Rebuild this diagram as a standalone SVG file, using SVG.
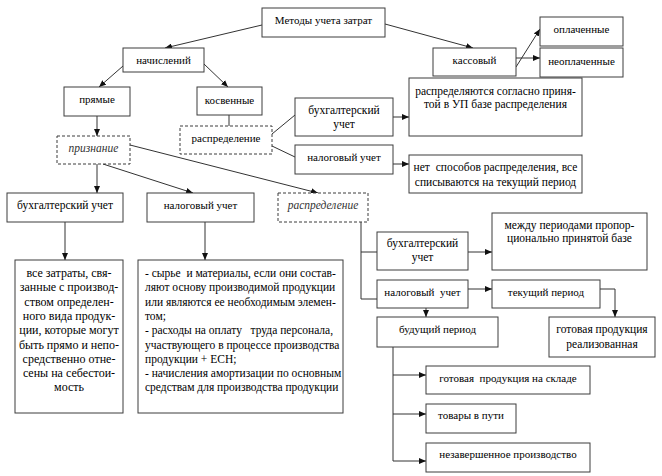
<svg xmlns="http://www.w3.org/2000/svg" width="662" height="476" viewBox="0 0 662 476">
<defs>
<style>
.b{fill:#fff;stroke:#3c3c3c;stroke-width:1}
.d{fill:#fff;stroke:#3c3c3c;stroke-width:1;stroke-dasharray:3,2}
.t{font-family:'Liberation Serif','Times New Roman','DejaVu Serif',serif;font-size:11.5px;fill:#000;text-anchor:middle}
.s{font-size:11px}
.g{font-size:12px}
.l{text-anchor:start}
.i{font-style:italic;fill:#333}
.c{fill:none;stroke:#333;stroke-width:1}
.a{marker-end:url(#ah)}
</style>
<marker id="ah" markerWidth="7" markerHeight="6" refX="7" refY="3" orient="auto" markerUnits="userSpaceOnUse">
<path d="M0,0 L7,3 L0,6 z" fill="#111"/>
</marker>
</defs>
<rect width="662" height="476" fill="#fff"/>
<g id="connectors">
<line class="c a" x1="262" y1="25" x2="165" y2="48"/>
<line class="c a" x1="385" y1="24" x2="473" y2="48"/>
<line class="c a" x1="123" y1="66" x2="99" y2="87"/>
<line class="c a" x1="204" y1="64" x2="228" y2="87"/>
<line class="c a" x1="97" y1="116" x2="97" y2="136"/>
<line class="c" x1="229" y1="115" x2="229" y2="126"/>
<line class="c" x1="272" y1="134" x2="295" y2="115"/>
<line class="c" x1="272" y1="146" x2="295" y2="157"/>
<line class="c a" x1="393" y1="117" x2="409" y2="117"/>
<line class="c a" x1="393" y1="164" x2="409" y2="164"/>
<line class="c a" x1="516" y1="67" x2="540" y2="29"/>
<line class="c a" x1="516" y1="58" x2="540" y2="58"/>
<line class="c a" x1="97" y1="164" x2="97" y2="193"/>
<line class="c a" x1="103" y1="164" x2="193" y2="193"/>
<line class="c a" x1="130" y1="145" x2="318" y2="193"/>
<line class="c a" x1="65" y1="222" x2="65" y2="260"/>
<line class="c a" x1="205" y1="222" x2="205" y2="260"/>
<polyline class="c" points="361,222 361,299 377,299"/>
<line class="c" x1="361" y1="252" x2="377" y2="252"/>
<line class="c a" x1="468" y1="252" x2="492" y2="252"/>
<line class="c a" x1="468" y1="289" x2="492" y2="289"/>
<polyline class="c a" points="600,289 615,289 615,317"/>
<line class="c a" x1="426" y1="308" x2="426" y2="317"/>
<polyline class="c a" points="393,347 393,461 426,461"/>
<line class="c a" x1="393" y1="375" x2="426" y2="375"/>
<line class="c a" x1="393" y1="414" x2="426" y2="414"/>
</g>
<g id="n-methods"><rect class="b" x="262" y="8" width="123" height="29"/><text class="t s" x="323.5" y="24">Методы учета затрат</text></g>
<g id="n-nachisl"><rect class="b" x="123" y="48" width="81" height="24"/><text class="t s" x="163.5" y="64">начислений</text></g>
<g id="n-kassa"><rect class="b" x="433" y="48" width="83" height="28"/><text class="t s" x="474.5" y="64">кассовый</text></g>
<g id="n-opl"><rect class="b" x="540" y="17" width="83" height="29"/><text class="t s" x="581.5" y="33">оплаченные</text></g>
<g id="n-neopl"><rect class="b" x="540" y="48" width="83" height="29"/><text class="t s" x="581.5" y="65">неоплаченные</text></g>
<g id="n-pryam"><rect class="b" x="64" y="87" width="66" height="29"/><text class="t s" x="97" y="103">прямые</text></g>
<g id="n-kosv"><rect class="b" x="197" y="87" width="65" height="28"/><text class="t s" x="229.5" y="104">косвенные</text></g>
<g id="n-raspr1"><rect class="d" x="180" y="126" width="92" height="28"/><text class="t s" x="226" y="142">распределение</text></g>
<g id="n-buh1"><rect class="b" x="295" y="98" width="98" height="38"/><text class="t" x="344" y="114">бухгалтерский</text><text class="t" x="344" y="128">учет</text></g>
<g id="n-nal1"><rect class="b" x="295" y="145" width="98" height="29"/><text class="t s" x="344" y="161">налоговый учет</text></g>
<g id="n-raspred-upr"><rect class="b" x="409" y="78" width="173" height="58"/><text class="t" x="495.5" y="95">распределяются согласно приня-</text><text class="t" x="495.5" y="108">той в УП базе распределения</text></g>
<g id="n-net"><rect class="b" x="409" y="155" width="173" height="38"/><text class="t" x="495.5" y="171" xml:space="preserve">нет  способов распределения, все</text><text class="t" x="495.5" y="186">списываются на текущий период</text></g>
<g id="n-priznanie"><rect class="d" x="57" y="136" width="73" height="28"/><text class="t i" x="93.5" y="152">признание</text></g>
<g id="n-buh2"><rect class="b" x="7" y="193" width="116" height="29"/><text class="t" x="65" y="209">бухгалтерский учет</text></g>
<g id="n-nal2"><rect class="b" x="147" y="193" width="107" height="29"/><text class="t s" x="200.5" y="209">налоговый учет</text></g>
<g id="n-raspr2"><rect class="d" x="278" y="193" width="90" height="29"/><text class="t i" x="323" y="209">распределение</text></g>
<g id="n-vse"><rect class="b" x="15" y="260" width="108" height="153"/>
<text class="t g" x="69" y="277">все затраты, свя-</text>
<text class="t g" x="69" y="291.3">занные с производ-</text>
<text class="t g" x="69" y="305.6">ством определен-</text>
<text class="t g" x="69" y="319.9">ного вида продук-</text>
<text class="t g" x="69" y="334.2">ции, которые могут</text>
<text class="t g" x="69" y="348.5">быть прямо и непо-</text>
<text class="t g" x="69" y="362.8">средственно отне-</text>
<text class="t g" x="69" y="377.1">сены на себестои-</text>
<text class="t g" x="69" y="391.4">мость</text>
</g>
<g id="n-list"><rect class="b" x="138" y="260" width="205" height="153"/>
<text class="t l" x="145" y="277" xml:space="preserve">- сырье  и материалы, если они состав-</text>
<text class="t l" x="145" y="291.3">ляют основу производимой продукции</text>
<text class="t l" x="145" y="305.6">или являются ее необходимым элемен-</text>
<text class="t l" x="145" y="319.9">том;</text>
<text class="t l" x="145" y="334.2" xml:space="preserve">- расходы на оплату   труда персонала,</text>
<text class="t l" x="145" y="348.5">участвующего в процессе производства</text>
<text class="t l" x="145" y="362.8">продукции + ЕСН;</text>
<text class="t l" x="145" y="377.1">- начисления амортизации по основным</text>
<text class="t l" x="145" y="391.4">средствам для производства продукции</text>
</g>
<g id="n-buh3"><rect class="b" x="377" y="232" width="91" height="38"/><text class="t" x="422.5" y="247">бухгалтерский</text><text class="t" x="422.5" y="261">учет</text></g>
<g id="n-mezhdu"><rect class="b" x="492" y="213" width="155" height="57"/><text class="t" x="569.5" y="229">между периодами пропор-</text><text class="t" x="569.5" y="242">ционально принятой базе</text></g>
<g id="n-nal3"><rect class="b" x="377" y="280" width="91" height="28"/><text class="t s" x="422.5" y="296" xml:space="preserve">налоговый  учет</text></g>
<g id="n-tek"><rect class="b" x="492" y="280" width="108" height="28"/><text class="t s" x="546" y="296">текущий период</text></g>
<g id="n-gotreal"><rect class="b" x="549" y="317" width="106" height="40"/><text class="t" x="602" y="333">готовая продукция</text><text class="t" x="602" y="348">реализованная</text></g>
<g id="n-bud"><rect class="b" x="377" y="317" width="121" height="30"/><text class="t s" x="437.5" y="333">будущий период</text></g>
<g id="n-sklad"><rect class="b" x="426" y="366" width="164" height="28"/><text class="t s" x="508" y="382" xml:space="preserve">готовая  продукция на складе</text></g>
<g id="n-tovary"><rect class="b" x="426" y="404" width="90" height="29"/><text class="t s" x="471" y="419">товары в пути</text></g>
<g id="n-nezav"><rect class="b" x="426" y="443" width="164" height="29"/><text class="t s" x="508" y="458">незавершенное производство</text></g>
</svg>
